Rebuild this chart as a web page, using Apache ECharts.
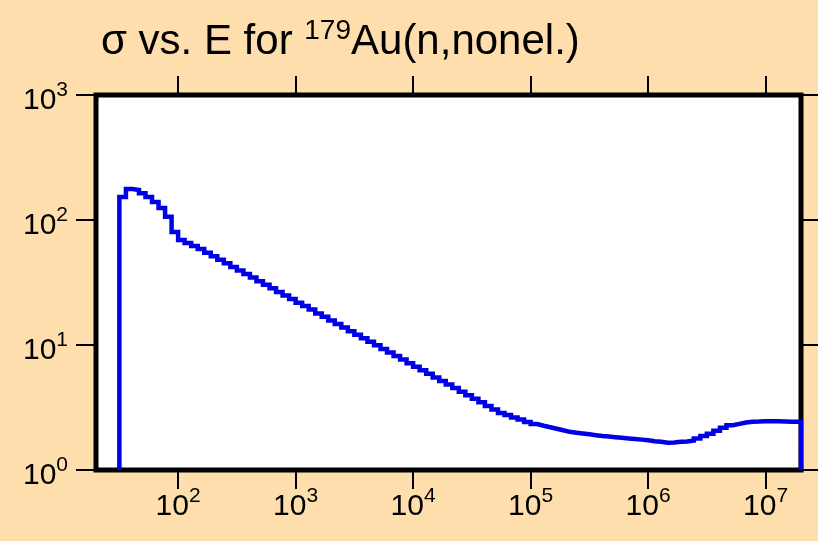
<!DOCTYPE html>
<html>
<head>
<meta charset="utf-8">
<script src="https://cdn.jsdelivr.net/npm/echarts@6/dist/echarts.min.js"></script>
<style>
html,body{margin:0;padding:0;background:#ffdead;}
#main{width:818px;height:541px;}
</style>
</head>
<body>
<div id="main"></div>
<script>
// bin edges (eV), 18 bins per decade, last edge = end of plot
var energy=[
    3.162e1,3.594e1,4.084e1,4.642e1,5.275e1,5.995e1,6.813e1,7.743e1,8.799e1,
    1e2,1.136e2,1.292e2,1.468e2,1.668e2,1.896e2,2.154e2,2.448e2,2.783e2,3.162e2,3.594e2,4.084e2,4.642e2,5.275e2,5.995e2,6.813e2,7.743e2,8.799e2,
    1e3,1.136e3,1.292e3,1.468e3,1.668e3,1.896e3,2.154e3,2.448e3,2.783e3,3.162e3,3.594e3,4.084e3,4.642e3,5.275e3,5.995e3,6.813e3,7.743e3,8.799e3,
    1e4,1.136e4,1.292e4,1.468e4,1.668e4,1.896e4,2.154e4,2.448e4,2.783e4,3.162e4,3.594e4,4.084e4,4.642e4,5.275e4,5.995e4,6.813e4,7.743e4,8.799e4,
    1e5,1.136e5,1.292e5,1.468e5,1.668e5,1.896e5,2.154e5,2.448e5,2.783e5,3.162e5,3.594e5,4.084e5,4.642e5,5.275e5,5.995e5,6.813e5,7.743e5,8.799e5,
    1e6,1.136e6,1.292e6,1.468e6,1.668e6,1.896e6,2.154e6,2.448e6,2.783e6,3.162e6,3.594e6,4.084e6,4.642e6,5.275e6,5.995e6,6.813e6,7.743e6,8.799e6,
    1e7,1.136e7,1.292e7,1.468e7,1.668e7,1.896e7,
    2e7
];
// cross section (b) in each bin
var sigma=[
    153,177,174,164,153,139,125,106,80,
    69.2,65.5,61.9,58.6,54.8,51.3,48.0,45.0,42.1,39.4,36.9,34.6,32.4,30.3,28.4,26.6,24.9,23.3,
    21.8,20.5,19.2,17.9,16.8,15.7,14.7,13.8,12.9,12.1,11.3,10.6,9.94,9.30,8.71,8.16,7.64,7.15,
    6.70,6.28,5.88,5.50,5.15,4.83,4.52,4.23,3.96,3.71,3.48,3.25,3.05,2.86,2.75,2.63,2.53,2.42,
    2.33,2.26,2.20,2.14,2.08,2.02,1.99,1.96,1.93,1.90,1.87,1.85,1.83,1.81,1.79,1.77,1.75,1.73,
    1.70,1.68,1.65,1.66,1.68,1.69,1.72,1.79,1.87,1.95,2.06,2.18,2.28,2.34,2.40,2.43,2.44,2.46,
    2.46,2.45,2.44,2.43,2.43,2.42
];
var xTicks=[1e2,1e3,1e4,1e5,1e6,1e7];
var yTicks=[1,10,100,1000];
var xMin=20,xMax=2e7,yMin=1,yMax=1000;

var font='Liberation Sans';
var labelRich={
    b:{fontFamily:font,fontSize:30,color:'#000',lineHeight:30,padding:[12,0,0,0]},
    s:{fontFamily:font,fontSize:21,color:'#000',lineHeight:21,verticalAlign:'top'}
};
function powLabel(v) {
    var e=Math.round(Math.log(v)/Math.LN10);
    return '{b|10}{s|'+e+'}';
}

// step line: rise from the axis at the first edge, fall back at the last one
var pts=[[energy[0],yMin]];
for (var i=0;i<sigma.length;i++){
    pts.push([energy[i],sigma[i]]);
}
pts.push([energy[energy.length-1],sigma[sigma.length-1]]);
pts.push([energy[energy.length-1],yMin]);

var tickStyle={color:'#000',width:2};
var option={
    backgroundColor:'#ffdead',
    animation:false,
    title:{
        text:'{a|σ vs. E for }{s|179}{a|Au(n,nonel.)}',
        left:96,
        top:12,
        textStyle:{
            fontWeight:'normal',
            rich:{
                a:{fontFamily:font,fontSize:42,fontWeight:'normal',color:'#000',lineHeight:42,padding:[9,0,0,0]},
                s:{fontFamily:font,fontSize:28,fontWeight:'normal',color:'#000',lineHeight:28,verticalAlign:'top'}
            }
        }
    },
    grid:{
        left:96,right:17,top:95,bottom:71,
        show:true,backgroundColor:'#fff',borderColor:'#000',borderWidth:5
    },
    xAxis:[
        {
            type:'log',position:'bottom',min:xMin,max:xMax,
            axisLine:{show:false},splitLine:{show:false},
            axisTick:{show:true,inside:false,length:19,lineStyle:tickStyle,customValues:xTicks},
            axisLabel:{customValues:xTicks,formatter:powLabel,margin:16,rich:labelRich}
        },
        {
            type:'log',position:'top',min:xMin,max:xMax,
            axisLine:{show:false},splitLine:{show:false},
            axisTick:{show:true,inside:false,length:19,lineStyle:tickStyle,customValues:xTicks},
            axisLabel:{show:false}
        }
    ],
    yAxis:[
        {
            type:'log',position:'left',min:yMin,max:yMax,
            axisLine:{show:false},splitLine:{show:false},
            axisTick:{show:true,inside:false,length:20,lineStyle:tickStyle,customValues:yTicks},
            axisLabel:{customValues:yTicks,formatter:powLabel,margin:28,rich:labelRich}
        },
        {
            type:'log',position:'right',min:yMin,max:yMax,
            axisLine:{show:false},splitLine:{show:false},
            axisTick:{show:true,inside:false,length:20,lineStyle:tickStyle,customValues:yTicks},
            axisLabel:{show:false}
        }
    ],
    series:[
        {
            type:'line',
            xAxisIndex:0,yAxisIndex:0,
            step:'end',
            symbol:'none',
            lineStyle:{color:'#0000e6',width:4.5,join:'miter',cap:'butt'},
            data:pts
        }
    ]
};
var myChart=echarts.init(document.getElementById('main'));
myChart.setOption(option);
</script>
</body>
</html>
